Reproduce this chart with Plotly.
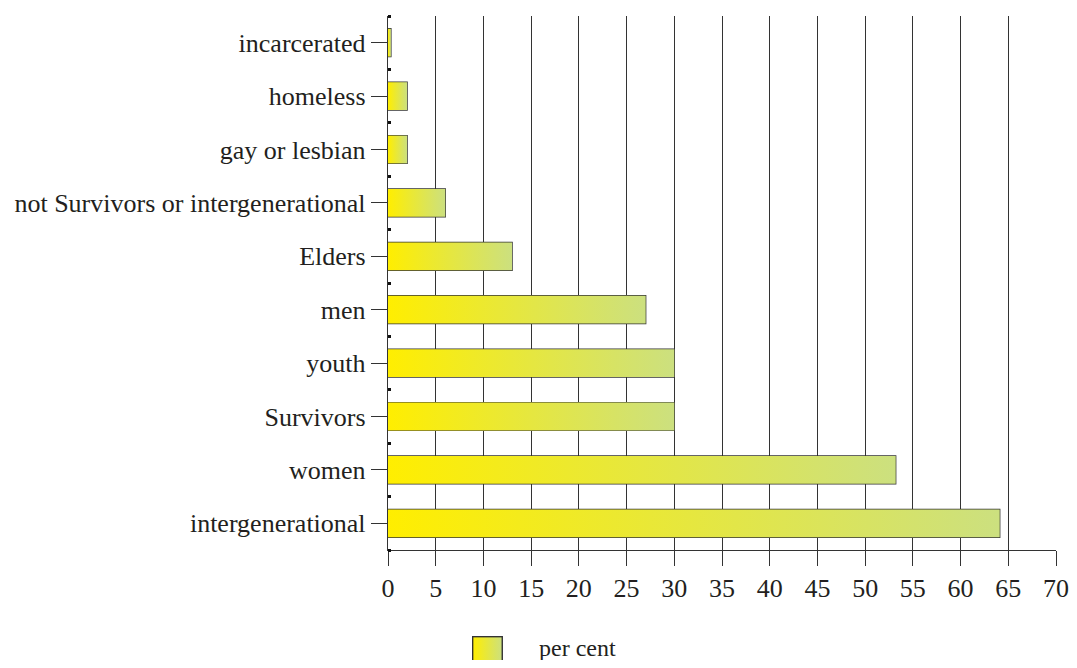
import base64
import plotly.graph_objects as go

# -----------------------------
# Data
# -----------------------------

categories = [
    "intergenerational",
    "women",
    "Survivors",
    "youth",
    "men",
    "Elders",
    "not Survivors or intergenerational",
    "gay or lesbian",
    "homeless",
    "incarcerated",
]
percent = [64.1, 53.2, 30, 30, 27, 13, 6, 2, 2, 0.3]

x_ticks = list(range(0, 75, 5))

FONT = "Liberation Serif"
TEXT = "#231f20"
LINE = "#333333"
BAR_W = 0.52
YELLOW = "#FFEE00"
GREEN = "#CCE07F"
GRADIENT = [[0, YELLOW], [1, GREEN]]

fig = go.Figure()

# gradient fill under each bar (one trace per bar so each gets its own ramp)
for i, v in enumerate(percent):
    lo, hi = i - BAR_W / 2, i + BAR_W / 2
    fig.add_trace(go.Scatter(
        x=[0, v, v, 0, 0],
        y=[lo, lo, hi, hi, lo],
        mode="lines",
        line=dict(width=0),
        fill="toself",
        fillgradient=dict(type="horizontal", colorscale=GRADIENT),
        showlegend=False,
        hoverinfo="skip",
    ))

# bar outlines
fig.add_trace(go.Bar(
    x=percent,
    y=list(range(len(categories))),
    orientation="h",
    width=BAR_W,
    marker=dict(color="rgba(0,0,0,0)", line=dict(color=LINE, width=1.4)),
    showlegend=False,
    name="per cent",
))

# legend swatch (gradient box) built as a small svg
svg = (
    '<svg xmlns="http://www.w3.org/2000/svg" width="31" height="40">'
    '<defs><linearGradient id="g" x1="0" x2="1" y1="0" y2="0">'
    f'<stop offset="0" stop-color="{YELLOW}"/><stop offset="1" stop-color="{GREEN}"/>'
    '</linearGradient></defs>'
    f'<rect x="0.7" y="0.7" width="29.6" height="38.6" fill="url(#g)" stroke="{LINE}" stroke-width="1.4"/>'
    '</svg>'
)
swatch = "data:image/svg+xml;base64," + base64.b64encode(svg.encode()).decode()

# page body has an 8px margin, so the figure is kept inside the window
fig.update_layout(
    width=1061,
    height=652,
    margin=dict(l=380, r=13, t=8, b=110),
    plot_bgcolor="white",
    paper_bgcolor="white",
    font=dict(family=FONT, size=26, color=TEXT),
    showlegend=False,
    images=[dict(
        source=swatch,
        xref="paper", yref="paper",
        x=0.1257, y=-0.161,
        sizex=0.0464, sizey=0.075,
        xanchor="left", yanchor="top",
        sizing="stretch",
        layer="above",
    )],
    annotations=[dict(
        text="per cent",
        xref="paper", yref="paper",
        x=0.2231, y=-0.183,
        xanchor="left", yanchor="middle",
        showarrow=False,
        font=dict(size=24, color=TEXT),
    )],
)

fig.update_xaxes(
    range=[0, 70],
    tickvals=x_ticks,
    ticks="outside",
    ticklen=15,
    tickwidth=1.4,
    tickcolor=LINE,
    showgrid=True,
    gridcolor=LINE,
    gridwidth=1.4,
    showline=True,
    linecolor=LINE,
    linewidth=1.4,
    zeroline=False,
    automargin=False,
    ticklabeloverflow="allow",
    tickfont=dict(size=26),
)

fig.update_yaxes(
    range=[-0.5, 9.5],
    tickvals=list(range(len(categories))),
    ticktext=categories,
    ticks="outside",
    ticklen=16,
    tickwidth=1.4,
    tickcolor=LINE,
    showgrid=False,
    showline=True,
    linecolor=LINE,
    linewidth=1.4,
    zeroline=False,
    automargin=False,
    minor=dict(tick0=0.5, dtick=1, ticks="inside", ticklen=3, tickwidth=3, tickcolor="#111111"),
)

fig.write_html("out.html")
